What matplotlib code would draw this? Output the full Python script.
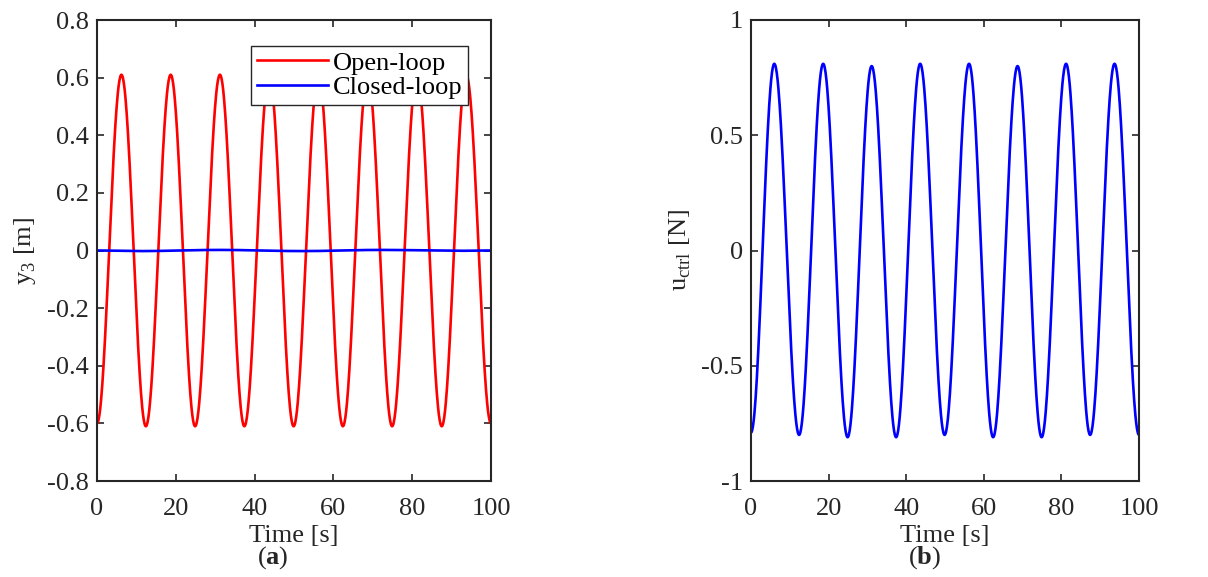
import matplotlib.pyplot as plt
import numpy as np

plt.rcParams['font.family'] = ['Liberation Serif', 'DejaVu Serif']
plt.rcParams['mathtext.fontset'] = 'custom'
plt.rcParams['mathtext.rm'] = 'Liberation Serif'
plt.rcParams['mathtext.bf'] = 'Liberation Serif:bold'

# extrema (time [s], value)
open_t = [0, 6.2, 12.4, 18.7, 24.9, 31.2, 37.4, 43.7, 49.9, 56.2, 62.4, 68.7, 74.9, 81.2, 87.5, 93.7, 100]
open_y = [-0.60, 0.61, -0.61, 0.61, -0.61, 0.61, -0.61, 0.61, -0.61, 0.61, -0.61, 0.61, -0.61, 0.61, -0.61, 0.61, -0.60]

closed_t = [0, 11, 31, 52, 72, 92, 100]
closed_y = [0.0, -0.002, 0.002, -0.002, 0.002, -0.001, 0.0]

u_t = [0, 6.0, 12.4, 18.6, 24.9, 31.1, 37.4, 43.6, 49.9, 56.2, 62.4, 68.7, 74.9, 81.2, 87.4, 93.7, 100]
u_y = [-0.79, 0.81, -0.80, 0.81, -0.81, 0.80, -0.81, 0.81, -0.80, 0.81, -0.81, 0.80, -0.81, 0.81, -0.80, 0.81, -0.80]


def smooth(ts, ys, n=60):
    # half-cosine between consecutive extrema
    xs, vs = [], []
    for k in range(len(ts) - 1):
        s = np.linspace(0, 1, n, endpoint=False)
        w = (1 - np.cos(np.pi * s)) / 2
        xs.append(ts[k] + (ts[k + 1] - ts[k]) * s)
        vs.append(ys[k] + (ys[k + 1] - ys[k]) * w)
    xs.append([ts[-1]])
    vs.append([ys[-1]])
    return np.concatenate(xs), np.concatenate(vs)


W, H = 1208, 577
fig = plt.figure(figsize=(W / 100, H / 100), dpi=100)
ax1 = fig.add_axes([97 / W, 1 - 481 / H, 394 / W, 461 / H])
ax2 = fig.add_axes([751 / W, 1 - 481 / H, 388 / W, 461 / H])

dark = '#262626'
fs = 19

x, y = smooth(open_t, open_y)
ax1.plot(x, y, color='#ff0000', lw=1.9, label='Open-loop')
x, y = smooth(closed_t, closed_y)
ax1.plot(x, y, color='#0000ff', lw=1.9, label='Closed-loop')
ax1.set_xlim(0, 100)
ax1.set_ylim(-0.8, 0.8)
ax1.set_yticks(np.arange(-0.8, 0.81, 0.2))
ax1.set_yticklabels(['-0.8', '-0.6', '-0.4', '-0.2', '0', '0.2', '0.4', '0.6', '0.8'])
ax1.set_ylabel(r'y$_{\mathregular{3}}$ [m]', fontsize=fs, color=dark, labelpad=6)
leg = ax1.legend(loc='upper right', bbox_to_anchor=(0.942, 0.944), borderaxespad=0,
                 fancybox=False, edgecolor=dark, fontsize=fs, handlelength=2.7,
                 labelspacing=0.05, borderpad=0.2, handletextpad=0.2, framealpha=1)
leg.get_frame().set_linewidth(1.0)

x, y = smooth(u_t, u_y)
ax2.plot(x, y, color='#0000ff', lw=1.9)
ax2.set_xlim(0, 100)
ax2.set_ylim(-1, 1)
ax2.set_yticks([-1, -0.5, 0, 0.5, 1])
ax2.set_yticklabels(['-1', '-0.5', '0', '0.5', '1'])
ax2.set_ylabel(r'u$_{\mathregular{ctrl}}$ [N]', fontsize=fs, color=dark, labelpad=6)

for ax in (ax1, ax2):
    ax.set_xticks([0, 20, 40, 60, 80, 100])
    ax.set_xlabel('Time [s]', fontsize=fs, color=dark, labelpad=4)
    ax.tick_params(direction='in', top=True, right=True, length=5, width=1.2,
                   labelsize=fs, colors=dark, pad=6)
    ax.tick_params(axis='x', pad=12)
    for sp in ax.spines.values():
        sp.set_linewidth(1.5)
        sp.set_color(dark)

fig.text(273 / W, 1 - 558 / H, r'($\mathbf{a}$)', ha='center', va='center', fontsize=fs, color=dark)
fig.text(925 / W, 1 - 558 / H, r'($\mathbf{b}$)', ha='center', va='center', fontsize=fs, color=dark)

fig.savefig('out.png', dpi=100)
